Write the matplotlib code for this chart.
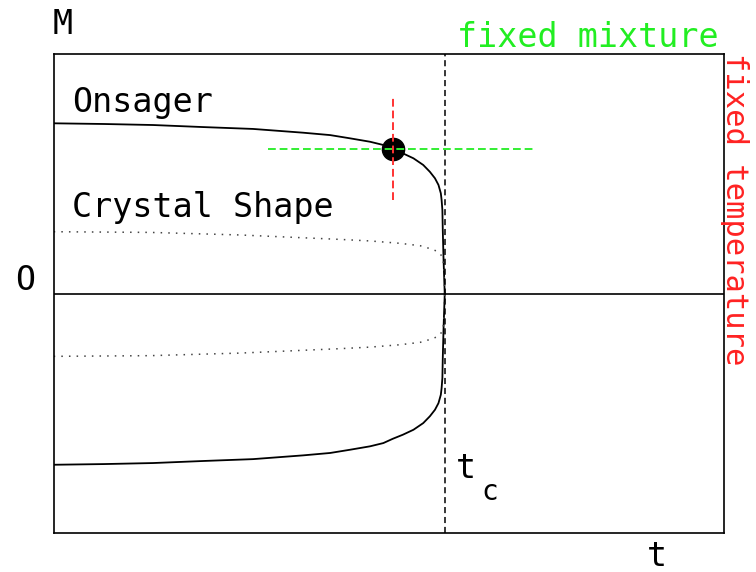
import matplotlib
matplotlib.use('Agg')
import matplotlib.pyplot as plt

# reduced temperature t/tc and magnetisation M/M0
t_onsager = [0.0, 0.128, 0.254, 0.382, 0.510, 0.638, 0.707, 0.758, 0.809, 0.843,
             0.867, 0.893, 0.920, 0.945, 0.962, 0.975, 0.984, 0.990, 0.992, 0.994,
             0.995, 0.997, 1.0]
m_onsager = [1.0, 0.996, 0.990, 0.978, 0.967, 0.945, 0.931, 0.912, 0.892, 0.873,
             0.848, 0.824, 0.795, 0.756, 0.716, 0.678, 0.639, 0.590, 0.551, 0.492,
             0.375, 0.200, 0.0]

t_crystal = [0.0, 0.246, 0.476, 0.732, 0.809, 0.886, 0.937, 0.967, 0.984, 0.992, 0.997, 1.0]
m_crystal = [0.365, 0.361, 0.346, 0.320, 0.311, 0.297, 0.283, 0.263, 0.247, 0.224, 0.18, 0.0]

t_c = 1.0
# working point and the two cuts through it
point_t, point_m = 0.867, 0.848
mix_cut = [0.548, 1.231]    # t range of the fixed-mixture cut
temp_cut = [0.551, 1.155]   # M range of the fixed-temperature cut

font = 'DejaVu Sans Mono'
fs = 24

fig = plt.figure(figsize=(7.56, 5.72), dpi=100)
ax = fig.add_axes([0.071, 0.0687, 0.8866, 0.8369])

# ordered branch and its mirror image
ax.plot(t_onsager, m_onsager, color='black', lw=1.3)
ax.plot(t_onsager, [-m for m in m_onsager], color='black', lw=1.3)
ax.plot(t_crystal, m_crystal, color='#444444', lw=1.1, ls=(0, (1, 4)))
ax.plot(t_crystal, [-m for m in m_crystal], color='#444444', lw=1.1, ls=(0, (1, 4)))

ax.axhline(0, color='black', lw=1.2)
ax.axvline(t_c, color='black', lw=1.1, dashes=(4, 2.5))

ax.plot([point_t], [point_m], 'o', color='black', ms=16, zorder=4)
ax.plot(mix_cut, [point_m, point_m], color='#33ee33', lw=1.4, dashes=(4, 2), zorder=5)
ax.plot([point_t, point_t], temp_cut, color='#ff3333', lw=1.4, dashes=(4, 2), zorder=5)

ax.set_xlim(0, 1.714)
ax.set_ylim(-1.398, 1.406)
ax.set_xticks([])
ax.set_yticks([])
for s in ax.spines.values():
    s.set_linewidth(1.2)

ax.text(0.047, 1.066, 'Onsager', family=font, fontsize=fs, va='baseline')
ax.text(0.047, 0.453, 'Crystal Shape', family=font, fontsize=fs, va='baseline')

W, H = 756, 572
def ftext(x, y, s, size=fs, **kw):
    fig.text(x / W, 1 - y / H, s, family=font, fontsize=size, **kw)

ftext(63, 25, 'M', ha='center', va='center')
ftext(25, 281, 'O', ha='center', va='center')
ftext(657, 556, 't', ha='center', va='center')
ftext(466, 468, 't', ha='center', va='center')
ftext(490, 492, 'c', size=20, ha='center', va='center')
ftext(588, 47, 'fixed mixture', color='#22ee22', ha='center', va='baseline')
ftext(720, 53, 'fixed temperature', size=22, color='#ff2222', rotation=-90,
      ha='left', va='top')

fig.savefig('out.png', dpi=100)
